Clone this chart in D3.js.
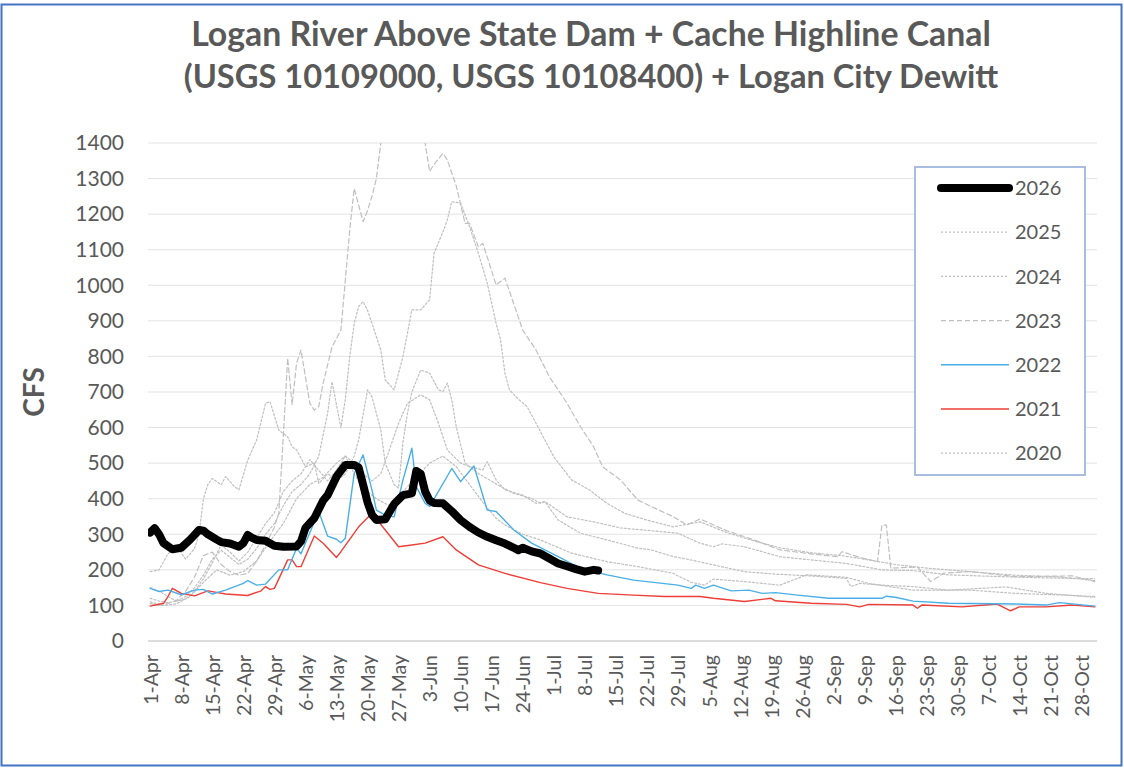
<!DOCTYPE html>
<html>
<head>
<meta charset="utf-8">
<script src="https://cdnjs.cloudflare.com/ajax/libs/d3/7.8.5/d3.min.js"></script>
<style>
  body { margin: 0; background: #fff; }
  text { font-family: Lato, "Open Sans", sans-serif; }
</style>
</head>
<body>
<script>
// values are [days after 1-Apr, cfs]
const s2026 = [[0,305],[1,317],[2,300],[3,275],[5,258],[7,262],[9,285],[11,312],[12,310],[13,300],[15,285],[16,278],[18,274],[20,265],[21,275],[22,298],[23,290],[24,284],[26,282],[28,268],[30,265],[33,266],[34,280],[35,318],[37,345],[39,395],[40,410],[42,462],[44,495],[46,495],[47,488],[48,440],[49,390],[50,355],[51,340],[53,342],[55,385],[57,410],[59,415],[60,478],[61,470],[62,420],[63,395],[64,388],[66,387],[68,365],[70,340],[72,321],[74,305],[76,293],[78,283],[80,274],[82,262],[83,255],[84,262],[86,252],[88,246],[90,232],[92,218],[94,210],[96,202],[98,195],[100,200],[101,198]];

const s2025 = [[0,150],[2,140],[4,125],[6,112],[8,118],[10,140],[12,175],[14,220],[16,270],[18,250],[20,225],[22,250],[24,290],[26,330],[28,360],[30,420],[32,450],[34,470],[36,510],[38,480],[40,450],[42,480],[44,520],[46,500],[48,470],[50,450],[52,470],[54,540],[56,612],[58,668],[61,692],[63,678],[65,612],[67,537],[70,500],[72,490],[75,481],[76,504],[78,453],[80,425],[84,410],[87,387],[89,392],[92,340],[97,303],[103,284],[110,261],[113,256],[118,237],[120,233],[127,214],[134,195],[141,188],[149,183],[157,176],[158,153],[160,162],[165,157],[172,153],[180,143],[193,152],[202,134],[213,123]];

const s2024 = [[0,120],[2,112],[4,108],[6,112],[8,125],[10,150],[12,185],[14,230],[16,255],[18,235],[20,215],[22,230],[24,260],[26,300],[28,330],[30,380],[32,420],[34,440],[36,470],[38,520],[40,640],[41,729],[43,600],[44,680],[45,800],[46,893],[47,940],[48,954],[49,930],[50,893],[52,818],[53,734],[55,706],[57,800],[59,931],[61,931],[63,959],[64,1090],[66,1150],[67,1184],[68,1235],[70,1231],[72,1165],[74,1090],[76,1006],[78,893],[79,846],[80,753],[81,706],[83,680],[85,659],[87,612],[91,518],[95,453],[99,425],[103,387],[107,359],[112,340],[118,321],[124,335],[130,305],[136,282],[142,262],[149,248],[156,240],[162,228],[168,215],[175,205],[185,195],[195,185],[205,180],[213,170]];

const s2023 = [[0,105],[2,100],[4,105],[6,115],[8,140],[10,180],[12,240],[14,250],[16,215],[18,195],[20,185],[22,190],[24,225],[26,270],[28,320],[29,360],[30,574],[31,795],[32,664],[33,781],[34,818],[36,668],[37,649],[38,659],[39,725],[41,827],[43,874],[44,1015],[45,1156],[46,1272],[48,1179],[49,1210],[50,1250],[51,1300],[52,1400],[54,1550],[57,1650],[60,1550],[62,1400],[63,1320],[64,1340],[66,1371],[67,1352],[69,1280],[71,1174],[72,1174],[74,1108],[75,1118],[78,1001],[80,1020],[84,874],[87,818],[90,743],[92,706],[94,668],[97,603],[100,546],[102,490],[106,453],[110,396],[113,378],[118,349],[121,326],[124,343],[130,310],[136,285],[142,256],[149,245],[155,237],[156,251],[160,235],[164,223],[165,326],[166,326],[167,205],[173,208],[176,167],[179,191],[185,195],[195,181],[208,183],[213,167]];

const s2022 = [[0,148],[2,139],[4,143],[7,130],[10,143],[12,145],[14,132],[17,143],[21,162],[22,170],[24,157],[26,160],[29,200],[31,200],[33,261],[34,245],[38,364],[40,295],[42,286],[43,276],[44,289],[46,471],[48,523],[50,425],[51,368],[53,354],[55,349],[57,453],[59,542],[60,434],[62,387],[63,378],[68,485],[70,448],[73,492],[76,368],[78,364],[82,312],[86,275],[92,237],[97,204],[103,186],[109,171],[119,157],[122,148],[123,157],[125,148],[127,157],[131,141],[135,143],[138,134],[141,136],[146,129],[153,120],[165,120],[166,126],[168,123],[172,112],[180,106],[195,104],[202,101],[205,108],[213,98]];

const s2021 = [[0,98],[3,106],[4,125],[5,148],[7,134],[10,127],[13,141],[17,132],[22,128],[25,141],[26,153],[27,145],[28,148],[31,228],[32,228],[33,209],[34,209],[37,295],[39,275],[42,235],[43,251],[47,321],[50,359],[53,312],[56,265],[59,270],[62,275],[66,293],[69,256],[74,214],[80,190],[88,164],[94,148],[101,134],[109,129],[116,125],[124,125],[127,120],[134,111],[140,120],[141,113],[149,106],[157,103],[160,96],[162,103],[172,101],[173,92],[174,101],[183,96],[191,104],[194,85],[196,96],[202,96],[208,101],[213,96]];

const s2020 = [[0,195],[2,200],[4,245],[6,265],[8,230],[10,260],[11,300],[12,400],[13,440],[14,457],[16,439],[17,462],[19,434],[20,425],[22,509],[24,565],[26,668],[27,673],[29,593],[31,574],[32,546],[33,537],[34,514],[35,490],[37,500],[38,443],[40,470],[42,450],[44,470],[46,520],[47,565],[49,706],[50,687],[52,593],[53,500],[55,440],[56,430],[57,560],[58,640],[59,700],[61,762],[63,753],[65,706],[66,701],[67,725],[68,678],[69,603],[71,500],[74,471],[79,434],[82,415],[86,401],[88,387],[89,392],[94,349],[100,335],[106,318],[113,310],[119,303],[124,275],[127,265],[129,273],[134,265],[142,237],[149,228],[157,218],[165,200],[172,198],[180,186],[187,183],[200,178],[213,175]];

// one more gray trace drawn in the chart but not listed in its legend
const sOther = [[0,110],[3,100],[6,105],[9,125],[12,165],[15,200],[18,185],[21,195],[24,225],[27,280],[30,330],[33,400],[36,440],[39,460],[42,500],[44,520],[46,470],[48,430],[51,400],[54,380],[57,420],[60,460],[63,500],[66,520],[69,490],[72,440],[75,390],[78,345],[80,326],[84,300],[88,284],[95,247],[103,223],[110,209],[118,190],[119,183],[122,165],[125,157],[127,174],[134,167],[142,157],[148,186],[157,179],[162,162],[172,143],[185,143],[195,134],[206,129],[213,125]];

const tickLabels = ["1-Apr","8-Apr","15-Apr","22-Apr","29-Apr","6-May","13-May","20-May","27-May","3-Jun","10-Jun","17-Jun","24-Jun","1-Jul","8-Jul","15-Jul","22-Jul","29-Jul","5-Aug","12-Aug","19-Aug","26-Aug","2-Sep","9-Sep","16-Sep","23-Sep","30-Sep","7-Oct","14-Oct","21-Oct","28-Oct"];
const yTicks = d3.range(0, 1401, 100);
const nDays = 214;

const gray = "#BFBFBF", txt = "#595959";
const series = [
  {name: "2026", data: s2026, color: "#000", width: 8, dash: null},
  {name: "2025", data: s2025, color: gray, width: 1.2, dash: "2,2"},
  {name: "2024", data: s2024, color: gray, width: 1.2, dash: "2,2"},
  {name: "2023", data: s2023, color: gray, width: 1.2, dash: "5,3"},
  {name: "2022", data: s2022, color: "#4AAFE6", width: 1.4, dash: null},
  {name: "2021", data: s2021, color: "#EE3E36", width: 1.4, dash: null},
  {name: "2020", data: s2020, color: gray, width: 1.2, dash: "2,2"}
];
const extra = {name: "other", data: sOther, color: gray, width: 1.2, dash: "2,2"};

const W = 1124, H = 770;
const pLeft = 148, pRight = 1097, pTop = 143, pBottom = 641;

const svg = d3.select("body").append("svg").attr("width", W).attr("height", H);

svg.append("rect").attr("x", 1.5).attr("y", 4.5).attr("width", 1120).attr("height", 761)
  .attr("fill", "#fff").attr("stroke", "#4472C4").attr("stroke-width", 2);

const x = d3.scaleLinear().domain([-0.5, nDays - 0.5]).range([pLeft, pRight]);
const y = d3.scaleLinear().domain([0, 1400]).range([pBottom, pTop]);

// title, each line fitted to its width in the reference
const title = svg.append("g").attr("font-weight", "bold").attr("fill", txt).attr("text-anchor", "middle");
[["Logan River Above State Dam + Cache Highline Canal", 46, 800],
 ["(USGS 10109000, USGS 10108400) + Logan City Dewitt", 88, 815]].forEach(([s, ty, w]) => {
  const t = title.append("text").attr("x", 591).attr("y", ty).attr("font-size", 28).text(s);
  t.attr("font-size", 28 * w / t.node().getComputedTextLength());
});

// grid
svg.append("g").selectAll("line").data(yTicks.filter(d => d > 0)).join("line")
  .attr("x1", pLeft).attr("x2", pRight).attr("y1", d => y(d)).attr("y2", d => y(d))
  .attr("stroke", "#E3E3E3").attr("stroke-width", 1);
svg.append("line").attr("x1", pLeft).attr("x2", pRight).attr("y1", y(0)).attr("y2", y(0))
  .attr("stroke", "#D0D0D0").attr("stroke-width", 1.5);

// y axis labels
const yAxis = svg.append("g").attr("transform", `translate(${pLeft},0)`)
  .call(d3.axisLeft(y).tickValues(yTicks).tickSize(0).tickPadding(24).tickFormat(d3.format("d")));
yAxis.select(".domain").remove();
yAxis.selectAll("text").attr("font-size", 21).attr("fill", txt).style("font-family", "Lato, sans-serif");

// x axis labels
const xAxis = svg.append("g").attr("transform", `translate(0,${pBottom})`)
  .call(d3.axisBottom(x).tickValues(tickLabels.map((d, i) => i * 7)).tickSize(0)
    .tickFormat((d, i) => tickLabels[i]));
xAxis.select(".domain").remove();
xAxis.selectAll("text").attr("font-size", 19.5).attr("fill", txt)
  .style("font-family", "Lato, sans-serif")
  .attr("text-anchor", "end").attr("transform", "rotate(-90)")
  .attr("x", -14).attr("y", 0).attr("dy", "0.36em");

// y title
svg.append("text").attr("transform", "translate(44,392) rotate(-90)")
  .attr("text-anchor", "middle").attr("font-size", 28).attr("font-weight", "bold")
  .attr("fill", txt).text("CFS");

// lines
svg.append("clipPath").attr("id", "plot").append("rect")
  .attr("x", pLeft).attr("y", pTop).attr("width", pRight - pLeft).attr("height", pBottom - pTop);
const line = d3.line().x(d => x(d[0])).y(d => y(d[1]));
const plot = svg.append("g").attr("clip-path", "url(#plot)");
const drawOrder = [extra, series[6], series[3], series[2], series[1], series[5], series[4], series[0]];
plot.selectAll("path").data(drawOrder).join("path")
  .attr("d", d => line(d.data)).attr("fill", "none")
  .attr("stroke", d => d.color).attr("stroke-width", d => d.width)
  .attr("stroke-dasharray", d => d.dash)
  .attr("stroke-linejoin", "round").attr("stroke-linecap", "round");

// legend
const lg = svg.append("g");
lg.append("rect").attr("x", 915).attr("y", 167).attr("width", 170).attr("height", 308)
  .attr("fill", "#fff").attr("stroke", "#A9BDE3").attr("stroke-width", 2);
const row = lg.selectAll("g.row").data(series).join("g").attr("class", "row")
  .attr("transform", (d, i) => `translate(0,${188 + i * 44.2})`);
row.append("line").attr("x1", 941).attr("x2", 1009)
  .attr("stroke", d => d.color).attr("stroke-width", d => d.width)
  .attr("stroke-dasharray", d => d.dash).attr("stroke-linecap", d => d.width > 3 ? "round" : "butt");
row.append("text").attr("x", 1015).attr("dy", "0.36em").attr("font-size", 20)
  .attr("fill", txt).text(d => d.name);
</script>
</body>
</html>
